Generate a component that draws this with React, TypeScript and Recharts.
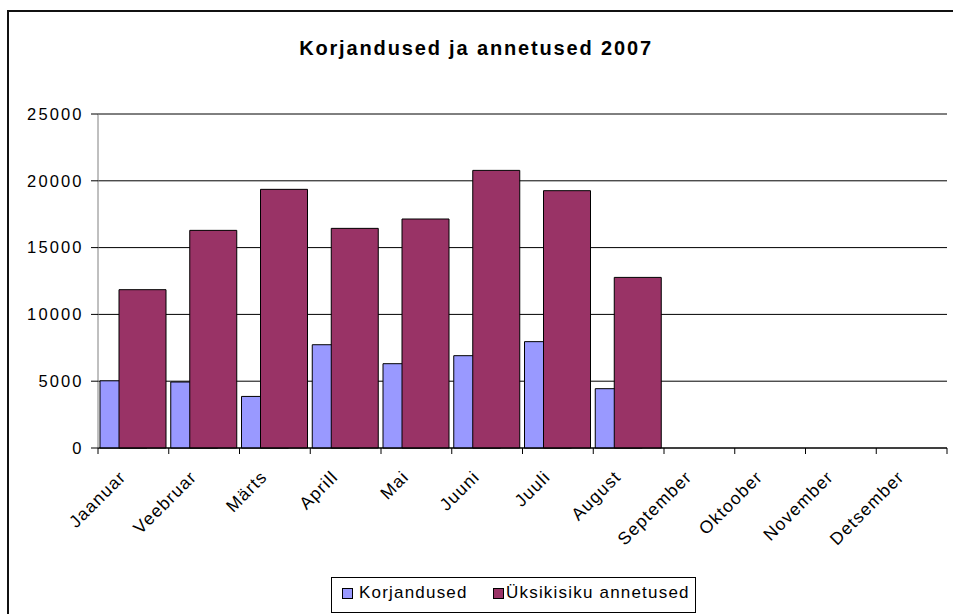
import React from "react";
import { Bar, BarChart, CartesianGrid, XAxis, YAxis } from "recharts";

const months = [
  "Jaanuar",
  "Veebruar",
  "Märts",
  "Aprill",
  "Mai",
  "Juuni",
  "Juuli",
  "August",
  "September",
  "Oktoober",
  "November",
  "Detsember",
];

// values, autumn months have no data yet
const korjandused = [5030, 4940, 3860, 7730, 6310, 6910, 7960, 4440, null, null, null, null];
const annetused = [11850, 16290, 19360, 16440, 17140, 20780, 19260, 12770, null, null, null, null];

const yTicks = [0, 5000, 10000, 15000, 20000, 25000];
const seriesNames = ["Korjandused", "Üksikisiku annetused"];
const seriesColors = ["#9999FF", "#993366"];
const title = "Korjandused ja annetused 2007";

const data = months.map((month, i) => ({
  month,
  korjandused: korjandused[i],
  annetused: annetused[i],
}));

const font = '"Liberation Sans", Arial, sans-serif';

// label plus Excel style tick marks between the categories
const MonthTick = (props: any) => {
  const { x, y, payload, index, width, visibleTicksCount } = props;
  const half = payload?.offset ?? width / visibleTicksCount / 2;
  const ax = x - 6.5;
  const ay = y + 30;
  const isLast = index === visibleTicksCount - 1;
  return (
    <g>
      <line x1={x - half} x2={x - half} y1={y} y2={y + 6} stroke="#000" />
      {isLast && <line x1={x + half} x2={x + half} y1={y} y2={y + 6} stroke="#000" />}
      <text
        x={ax}
        y={ay}
        transform={`rotate(-45, ${ax}, ${ay})`}
        textAnchor="end"
        fontFamily={font}
        fontSize={17.5}
        letterSpacing={1.2}
        fill="#000"
      >
        {payload.value}
      </text>
    </g>
  );
};

const Swatch = ({ color, left }: { color: string; left: number }) => (
  <span
    style={{
      position: "absolute",
      left,
      top: 10,
      width: 11,
      height: 11,
      boxSizing: "border-box",
      border: "1px solid #000",
      background: color,
    }}
  />
);

const LegendText = ({ text, left }: { text: string; left: number }) => (
  <span
    style={{
      position: "absolute",
      left,
      top: 6,
      fontSize: 17,
      lineHeight: "17px",
      letterSpacing: 1.2,
      whiteSpace: "nowrap",
      color: "#000",
    }}
  >
    {text}
  </span>
);

const App: React.FC = () => {
  return (
    <div
      style={{
        position: "fixed",
        left: 0,
        top: 0,
        width: 953,
        height: 614,
        overflow: "hidden",
        background: "#fff",
        fontFamily: font,
      }}
    >
      <div
        style={{
          position: "absolute",
          left: 7,
          top: 10,
          width: 980,
          height: 640,
          borderLeft: "2px solid #111",
          borderTop: "2px solid #111",
        }}
      />
      <div
        style={{
          position: "absolute",
          left: 0,
          top: 38,
          width: 952,
          textAlign: "center",
          fontSize: 20,
          lineHeight: "20px",
          fontWeight: "bold",
          letterSpacing: 1.85,
          color: "#000",
        }}
      >
        {title}
      </div>
      <div style={{ position: "absolute", left: 9, top: 12 }}>
        <BarChart
          width={944}
          height={602}
          data={data}
          margin={{ top: 102, right: 6, bottom: 165, left: 29 }}
          barSize={47}
          barGap={-28}
        >
          <CartesianGrid vertical={false} stroke="#000" />
          <XAxis
            dataKey="month"
            height={1}
            interval={0}
            tickLine={false}
            tickSize={0}
            tickMargin={0}
            axisLine={{ stroke: "#000" }}
            tick={<MonthTick />}
          />
          <YAxis
            width={60}
            domain={[0, 25000]}
            ticks={yTicks}
            interval={0}
            tickSize={7}
            tickMargin={7.5}
            axisLine={{ stroke: "#808080" }}
            tickLine={{ stroke: "#000" }}
            tick={{ fill: "#000", fontSize: 16.5, fontFamily: font, letterSpacing: 2.1 }}
          />
          <Bar
            dataKey="korjandused"
            name={seriesNames[0]}
            fill={seriesColors[0]}
            stroke="#000"
            strokeWidth={1}
            isAnimationActive={false}
          />
          <Bar
            dataKey="annetused"
            name={seriesNames[1]}
            fill={seriesColors[1]}
            stroke="#000"
            strokeWidth={1}
            isAnimationActive={false}
          />
        </BarChart>
      </div>
      <div
        style={{
          position: "absolute",
          left: 331,
          top: 577,
          width: 365,
          height: 36,
          boxSizing: "border-box",
          border: "1px solid #000",
          background: "#fff",
        }}
      >
        <Swatch color={seriesColors[0]} left={10} />
        <LegendText text={seriesNames[0]} left={27} />
        <Swatch color={seriesColors[1]} left={161} />
        <LegendText text={seriesNames[1]} left={174} />
      </div>
    </div>
  );
};

export default App;
